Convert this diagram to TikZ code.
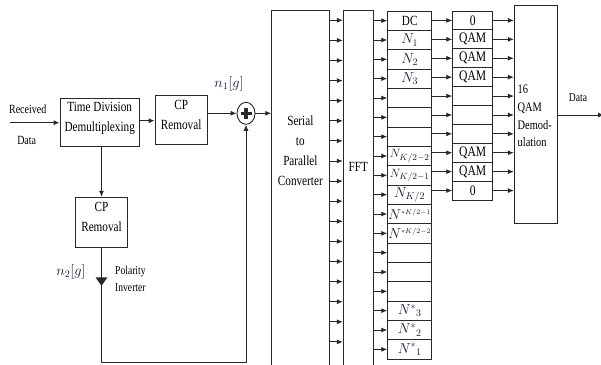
\documentclass[tikz,border=0pt]{standalone}
\usepackage{fontspec}
\setmainfont[FakeStretch=0.8]{Liberation Serif}
\usetikzlibrary{arrows.meta,shapes.geometric,calc}
\definecolor{lc}{RGB}{40,40,40}
\definecolor{mc}{RGB}{20,25,55}
\begin{document}
\begin{tikzpicture}[x=1pt,y=-1pt,
  box/.style={draw=lc,line width=0.9pt,inner sep=0pt,rectangle},
  wire/.style={draw=lc,line width=0.9pt},
  arr/.style={draw=lc,line width=0.9pt,-{Latex[length=6pt,width=5pt]}},
  txt/.style={inner sep=0pt,align=center,font=\fontsize{14}{20}\selectfont},
  small/.style={inner sep=0pt,align=center,font=\fontsize{12.5}{16}\selectfont},
  mlab/.style={inner sep=0pt,text=mc,font=\fontsize{14}{16}\selectfont},
  cell/.style={box,minimum width=44pt,minimum height=19.33pt,font=\fontsize{14}{16}\selectfont,text=mc},
  qcell/.style={box,minimum width=40pt,minimum height=18.9pt,font=\fontsize{14.5}{16}\selectfont}]
\useasboundingbox (0,0) rectangle (601,364);
\clip (0,0) rectangle (601,364);

% left part
\coordinate (recv) at (10,122.7);
\node[small] (rtxt) at (27.7,109.5) {Received};
\node[small] (dtxt) at (26.7,140) {Data};
\node[box,minimum width=79.3pt,minimum height=48.4pt] (tdd) at (99.7,122.5) {};
\node[txt] (tddt) at (99.7,118) {Time Division\\Demultiplexing};
\node[box,minimum width=52.3pt,minimum height=49.3pt] (cp1) at (181.2,119.7) {};
\node[txt] (cp1t) at (181.2,114.5) {CP\\Removal};
\node[box,minimum width=51.7pt,minimum height=50pt] (cp2) at (101.5,222.3) {};
\node[txt] (cp2t) at (101.5,217) {CP\\Removal};

\node[draw=lc,line width=0.9pt,ellipse,minimum width=18pt,minimum height=22pt,inner sep=0pt] (sum) at (246,113.3) {};
\draw[lc,line width=3.5pt] ($(sum.center)+(-5.5,0)$) -- ($(sum.center)+(5.5,0)$);
\draw[lc,line width=3.5pt] ($(sum.center)+(0,-5.5)$) -- ($(sum.center)+(0,5.5)$);
\node[mlab] (n1) at (229,83.5) {$n_1[g]$};

\draw[arr] (recv) -- (tdd.west |- recv);
\coordinate (a1) at (0,120.7);
\draw[arr] (tdd.east |- a1) -- (cp1.west |- a1);
\draw[arr] (cp1.east |- sum) -- (sum.west);
\draw[arr] (tdd.south -| cp2.north) -- (cp2.north);

% lower branch
\coordinate (bl) at (101.5,362.7);
\coordinate (br) at (246,362.7);
\draw[wire] (cp2.south) -- (bl) -- (br);
\draw[arr] (br) -- (sum.south);
\coordinate (inv) at (101.5,277.3);
\fill[lc] ($(inv)+(-6,0)$) -- ($(inv)+(6,0)$) -- ($(inv)+(0,8.5)$) -- cycle;
\node[mlab] (n2) at (71,271.7) {$n_2[g]$};
\node[inner sep=0pt,align=left,anchor=north west,font=\fontsize{12}{16.5}\selectfont] (pol) at (115,266) {Polarity\\Inverter};

% serial and FFT
\node[box,minimum width=57.3pt,minimum height=360pt] (ser) at (300.35,190.7) {};
\node[txt] (sert) at (300.35,151) {Serial\\to\\Parallel\\Converter};
\node[box,minimum width=30pt,minimum height=360pt] (fft) at (358.3,190.7) {};
\node[txt] (fftt) at (358.3,167) {FFT};
\draw[arr] (sum.east) -- (ser.west |- sum);
\foreach \k in {0,...,16}{
  \coordinate (sy\k) at (0,{20.3+20.1*\k});
  \draw[arr] (ser.east |- sy\k) -- (fft.west |- sy\k);
}

% subcarrier cells
\foreach \i/\t in {0/{\textcolor{black}{DC}},1/{$N_1$},2/{$N_2$},3/{$N_3$},4/{},5/{},6/{},
  7/{\fontsize{12.5}{14}\selectfont$N_{K/2-2}$},8/{\fontsize{12.5}{14}\selectfont$N_{K/2-1}$},9/{$N_{K/2}$},
  10/{$N^{\scriptscriptstyle *K/2-1}$},11/{$N^{\scriptscriptstyle *K/2-2}$},
  12/{},13/{},14/{},15/{$N^{*}{}_{3}$},16/{$N^{*}{}_{2}$},17/{$N^{*}{}_{1}$}}{
  \node[cell] (c\i) at (409.7,{11+19.333*(\i+0.5)}) {\t};
  \draw[arr] (fft.east |- c\i) -- (c\i.west);
}

% QAM cells
\foreach \i/\t in {0/0,1/QAM,2/QAM,3/QAM,4/{},5/{},6/{},7/QAM,8/QAM,9/0}{
  \node[qcell] (q\i) at (472.7,{11+18.9*(\i+0.5)}) {\t};
  \draw[arr] (c\i.east |- q\i) -- (q\i.west);
}

% demodulator
\node[box,minimum width=43.4pt,minimum height=217.3pt] (dem) at (536,114.35) {};
\node[inner sep=0pt,align=left,anchor=west,font=\fontsize{13}{17.8}\selectfont] (demt) at (517.5,116) {16\\QAM\\Demod-\\ulation};
\foreach \i in {0,...,9}{
  \draw[arr] (q\i.east) -- (dem.west |- q\i);
}
\coordinate (dout) at (604,115);
\draw[arr] (dem.east |- dout) -- (dout);
\node[inner sep=0pt,font=\fontsize{12}{14}\selectfont] (dlab) at (578,98) {Data};
\end{tikzpicture}
\end{document}
